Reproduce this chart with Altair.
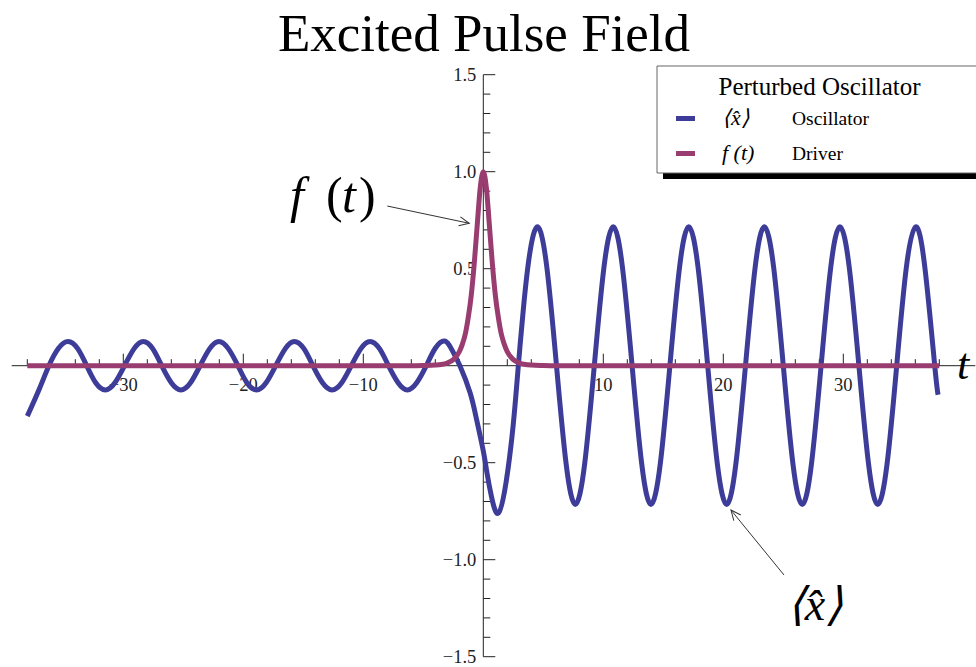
import altair as alt
import pandas as pd

# ---- <x̂>(t): oscillator expectation value, sampled along the curve ----
osc_t = [-38.0, -37.0, -36.2, -35.4, -34.6, -33.8, -33.05, -32.3, -31.5, -30.7,
         -29.9, -29.1, -28.33, -27.55, -26.8, -26.0, -25.2, -24.4, -23.6, -22.8,
         -22.03, -21.25, -20.45, -19.7, -18.9, -18.1, -17.3, -16.5, -15.75, -14.95,
         -14.2, -13.4, -12.6, -11.8, -11.0, -10.2, -9.44, -8.65, -7.9, -7.1,
         -6.33, -5.55, -4.75, -4.0, -3.2, -2.6, -1.95, -1.1, -0.55, 0.0,
         0.3, 0.7, 1.25, 1.9, 2.5, 2.92, 3.35, 3.85, 4.53, 5.3,
         6.1, 6.9, 7.67, 8.45, 9.25, 10.05, 10.83, 11.6, 12.4, 13.2,
         13.97, 14.75, 15.55, 16.35, 17.12, 17.9, 18.7, 19.5, 20.28, 21.05,
         21.85, 22.65, 23.42, 24.2, 25.0, 25.8, 26.58, 27.35, 28.15, 28.95,
         29.72, 30.5, 31.3, 32.1, 32.87, 33.65, 34.45, 35.25, 36.03, 36.8,
         37.62, 37.9]
osc_x = [-0.26, -0.12, 0.0, 0.09, 0.125, 0.088, 0.0, -0.088, -0.125, -0.088,
         0.0, 0.088, 0.125, 0.088, 0.0, -0.088, -0.125, -0.088, 0.0, 0.088,
         0.125, 0.088, 0.0, -0.088, -0.125, -0.088, 0.0, 0.088, 0.125, 0.088,
         0.0, -0.088, -0.125, -0.088, 0.0, 0.088, 0.125, 0.088, 0.0, -0.088,
         -0.125, -0.088, 0.0, 0.09, 0.127, 0.08, 0.0, -0.14, -0.28, -0.44,
         -0.55, -0.68, -0.76, -0.6, -0.3, 0.0, 0.3, 0.57, 0.716, 0.505,
         0.0, -0.505, -0.715, -0.505, 0.0, 0.505, 0.716, 0.505, 0.0, -0.505,
         -0.715, -0.505, 0.0, 0.505, 0.716, 0.505, 0.0, -0.505, -0.715, -0.505,
         0.0, 0.505, 0.716, 0.505, 0.0, -0.505, -0.715, -0.505, 0.0, 0.505,
         0.716, 0.505, 0.0, -0.505, -0.715, -0.505, 0.0, 0.505, 0.716, 0.505,
         0.0, -0.15]

# ---- f(t): driving pulse ----
drv_t = [-38.0, -6.0, -5.0, -4.0, -3.5, -3.0, -2.5, -2.0, -1.75, -1.5, -1.25, -1.0,
         -0.75, -0.5, -0.25, 0.0, 0.25, 0.5, 0.75, 1.0, 1.25, 1.5, 1.75, 2.0,
         2.5, 3.0, 3.5, 4.0, 5.0, 6.0, 38.0]
drv_f = [0.0, 0.0, 0.001, 0.003, 0.006, 0.014, 0.031, 0.072, 0.11, 0.163, 0.25, 0.365,
         0.53, 0.73, 0.92, 1.0, 0.92, 0.73, 0.53, 0.365, 0.25, 0.163, 0.11, 0.072,
         0.031, 0.014, 0.006, 0.003, 0.001, 0.0, 0.0]

# ---- axes: labels and tick positions ----
x_labels = [-30, -20, -10, 10, 20, 30]
x_minor = [-38, -36, -34, -32, -28, -26, -24, -22, -18, -16, -14, -12, -8, -6, -4, -2,
           2, 4, 6, 8, 12, 14, 16, 18, 22, 24, 26, 28, 32, 34, 36, 38]
y_labels = [-1.5, -1.0, -0.5, 0.5, 1.0, 1.5]
y_minor = [-1.4, -1.3, -1.2, -1.1, -0.9, -0.8, -0.7, -0.6, -0.4, -0.3, -0.2, -0.1,
           0.1, 0.2, 0.3, 0.4, 0.6, 0.7, 0.8, 0.9, 1.1, 1.2, 1.3, 1.4]

series_names = ["Oscillator", "Driver"]
series_symbols = ["\u27e8x\u0302\u27e9", "f (t)"]
series_colors = ["#3d3d99", "#993d71"]

SERIF = "Liberation Serif"
INK = "#222222"

X_DOMAIN = [-39.3, 41.0]
Y_DOMAIN = [-1.5, 1.5]
PX_PER_T = 12.0
W = (X_DOMAIN[1] - X_DOMAIN[0]) * PX_PER_T
H = 582.0
PAD_L, PAD_T = 11.7, 74.7

XS = alt.Scale(domain=X_DOMAIN, nice=False, zero=False)
YS = alt.Scale(domain=Y_DOMAIN, nice=False, zero=False)

one_row = pd.DataFrame({"k": [0]})


def xq(field="t"):
    return alt.X(f"{field}:Q", scale=XS, axis=None)


def yq(field="v"):
    return alt.Y(f"{field}:Q", scale=YS, axis=None)


def xd(val):
    return alt.XDatum(val, scale=XS, axis=None)


def yd(val):
    return alt.YDatum(val, scale=YS, axis=None)


osc_df = pd.DataFrame({"t": osc_t, "v": osc_x})
drv_df = pd.DataFrame({"t": drv_t, "v": drv_f})

osc_line = alt.Chart(osc_df).mark_line(
    color=series_colors[0], strokeWidth=5, interpolate="natural", strokeCap="butt"
).encode(x=xq(), y=yq(), order="t:Q")
drv_line = alt.Chart(drv_df).mark_line(
    color=series_colors[1], strokeWidth=5, interpolate="monotone", strokeCap="butt"
).encode(x=xq(), y=yq(), order="t:Q")

# axis lines crossing at the origin
x_axis_line = alt.Chart(one_row).mark_rule(color=INK, strokeWidth=1).encode(
    x=xd(X_DOMAIN[0]), x2=alt.X2Datum(X_DOMAIN[1]), y=yd(0))
y_axis_line = alt.Chart(one_row).mark_rule(color=INK, strokeWidth=1).encode(
    y=yd(Y_DOMAIN[0]), y2=alt.Y2Datum(Y_DOMAIN[1]), x=xd(0))

# tick marks pointing into the plot
xt_major = alt.Chart(pd.DataFrame({"t": x_labels})).mark_rule(
    color=INK, strokeWidth=1, y2Offset=-12
).encode(x=xq(), y=yd(0), y2=alt.Y2Datum(0))
xt_minor = alt.Chart(pd.DataFrame({"t": x_minor})).mark_rule(
    color=INK, strokeWidth=1, y2Offset=-6.5
).encode(x=xq(), y=yd(0), y2=alt.Y2Datum(0))
yt_major = alt.Chart(pd.DataFrame({"v": y_labels})).mark_rule(
    color=INK, strokeWidth=1, x2Offset=12
).encode(y=yq(), x=xd(0), x2=alt.X2Datum(0))
yt_minor = alt.Chart(pd.DataFrame({"v": y_minor})).mark_rule(
    color=INK, strokeWidth=1, x2Offset=7
).encode(y=yq(), x=xd(0), x2=alt.X2Datum(0))

# tick labels
x_tick_text = alt.Chart(pd.DataFrame({"t": x_labels})).mark_text(
    font=SERIF, fontSize=18.5, color=INK, baseline="top", align="center", dy=10
).encode(x=xq(), y=yd(0), text=alt.Text("t:Q", format="d"))
y_tick_text = alt.Chart(pd.DataFrame({"v": y_labels})).mark_text(
    font=SERIF, fontSize=18.5, color=INK, baseline="middle", align="right", dx=-7
).encode(y=yq(), x=xd(0), text=alt.Text("v:Q", format=".1f"))


def arrow(t0, v0, t1, v1, angle):
    shaft = alt.Chart(one_row).mark_rule(color="#333333", strokeWidth=1).encode(
        x=xd(t0), y=yd(v0), x2=alt.X2Datum(t1), y2=alt.Y2Datum(v1),
    )
    head = alt.Chart(one_row).mark_point(
        shape="M -1 -0.45 L 0 0 L -1 0.45", filled=False, stroke="#333333",
        strokeWidth=1, size=400, angle=angle, opacity=1,
    ).encode(x=xd(t1), y=yd(v1))
    return shaft + head


arrow_f = arrow(-8.0, 0.823, -1.17, 0.734, 11.9)
arrow_x = arrow(25.06, -1.079, 20.64, -0.744, 230.8)


def label(text, x, y, size, italic=False, align="left", baseline="alphabetic", color="black"):
    return alt.Chart(one_row).mark_text(
        text=text, font=SERIF, fontSize=size, fontStyle="italic" if italic else "normal",
        align=align, baseline=baseline, color=color,
    ).encode(x=alt.value(x - PAD_L), y=alt.value(y - PAD_T))


title = label("Excited Pulse Field", 484, 51, 53, align="center")
t_label = label("t", 957, 379, 44, italic=True)
# f (t) with an italic f and t and upright parentheses
f_note = [label("f", 290, 212, 50, italic=True), label("(", 326, 212, 50),
          label("t", 342, 212, 50, italic=True), label(")", 359, 212, 50)]
x_note = label(series_symbols[0], 815, 606, 46, italic=True, align="center", baseline="middle")


# legend panel with drop shadow
def box(x0, y0, x1, y1, fill, stroke=None):
    kw = dict(fill=fill)
    if stroke:
        kw.update(stroke=stroke, strokeWidth=1)
    return alt.Chart(one_row).mark_rect(**kw).encode(
        x=alt.value(x0 - PAD_L), x2=alt.value(x1 - PAD_L),
        y=alt.value(y0 - PAD_T), y2=alt.value(y1 - PAD_T),
    )


legend = [box(663, 72, 990, 179, "black"), box(657, 66, 984, 173, "white", "#666666"),
          label("Perturbed Oscillator", 819.5, 95, 25, align="center")]
row_y = [118.5, 153.5]
for i, name in enumerate(series_names):
    ry = row_y[i]
    legend.append(alt.Chart(one_row).mark_rule(color=series_colors[i], strokeWidth=5).encode(
        x=alt.value(676 - PAD_L), x2=alt.value(695 - PAD_L), y=alt.value(ry - PAD_T)))
    legend.append(label(series_symbols[i], 722, ry + 6.5, 22, italic=True))
    legend.append(label(name, 792, ry + 6.5, 19.5))

chart = alt.layer(
    x_axis_line, y_axis_line, xt_minor, xt_major, yt_minor, yt_major,
    x_tick_text, y_tick_text, osc_line, drv_line,
    arrow_f, arrow_x, *f_note, x_note, t_label, title, *legend,
).properties(
    width=W, height=H, autosize="none",
    padding={"left": PAD_L, "top": PAD_T, "right": 976 - PAD_L - W, "bottom": 667 - PAD_T - H},
    background="white",
).configure_view(stroke=None)

chart.save("out.html", embed_options={"renderer": "svg", "actions": False})
